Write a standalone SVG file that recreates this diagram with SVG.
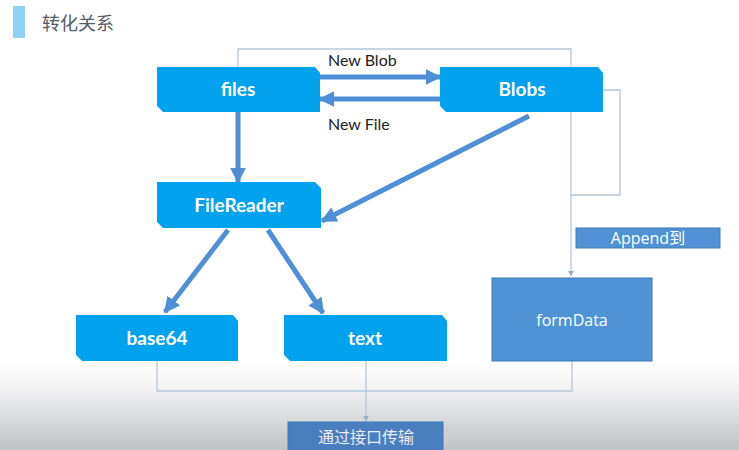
<svg xmlns="http://www.w3.org/2000/svg" width="739" height="450" viewBox="0 0 739 450">
<defs>
<linearGradient id="bg" x1="0" y1="0" x2="0" y2="1">
<stop offset="0" stop-color="#ffffff"/>
<stop offset="0.3" stop-color="#f2f2f3"/>
<stop offset="1" stop-color="#bfc1c4"/>
</linearGradient>
<marker id="ah" viewBox="0 0 10 10" refX="9" refY="5" markerWidth="3.2" markerHeight="3.2" orient="auto" markerUnits="strokeWidth">
<path d="M0,0 L10,5 L0,10 z" fill="#4f8fd6"/>
</marker>
<marker id="th" viewBox="0 0 10 10" refX="9" refY="5" markerWidth="6" markerHeight="6" orient="auto" markerUnits="userSpaceOnUse">
<path d="M0,0 L10,5 L0,10 z" fill="#8fb0cf"/>
</marker>
</defs>
<style>
.node path{fill:#03a2ee}
.node text{fill:#fff;font-family:Lato,"Open Sans",sans-serif;font-weight:bold;font-size:19px;text-anchor:middle}
.thick{stroke:#4f8fd6;stroke-width:5;fill:none;marker-end:url(#ah)}
.thin{stroke:#b4c7db;stroke-width:1.3;fill:none}
.lbl{font-family:Lato,"Open Sans",sans-serif;font-size:16px;fill:#222}
.box{fill:#4f93d6;stroke:#3f78b5;stroke-width:1}
.boxt{fill:#fff;font-family:"Open Sans","Noto Sans CJK SC",sans-serif;font-size:16px;text-anchor:middle}
</style>
<rect x="0" y="0" width="739" height="450" fill="#ffffff"/>
<rect x="0" y="362" width="739" height="88" fill="url(#bg)"/>
<rect x="13" y="6" width="12" height="32" fill="#8fd0f5"/>
<text x="42" y="30" font-family="'Noto Sans CJK SC',sans-serif" font-size="18" fill="#555b66">转化关系</text>
<g id="connectors">
<polyline class="thin" points="238,67 238,49 571,49 571,276" marker-end="url(#th)"/>
<polyline class="thin" points="603,90 620,90 620,195 571,195"/>
<polyline class="thin" points="157,361 157,391 572,391 572,361"/>
<line class="thin" x1="366" y1="361" x2="366" y2="421" marker-end="url(#th)"/>
<line class="thick" x1="320" y1="77" x2="440" y2="77"/>
<line class="thick" x1="440" y1="99" x2="320" y2="99"/>
<line class="thick" x1="238" y1="112" x2="238" y2="182"/>
<line class="thick" x1="529" y1="116" x2="322" y2="221"/>
<line class="thick" x1="228" y1="230" x2="165" y2="312"/>
<line class="thick" x1="268" y1="230" x2="323" y2="313"/>
<text class="lbl" x="328" y="66">New Blob</text>
<text class="lbl" x="328" y="130">New File</text>
</g>
<g id="files" class="node"><path d="M157,67 H315 L320,73 V112 H163 L157,106 Z"/><text x="238" y="96">files</text></g>
<g id="blobs" class="node"><path d="M440,67 H598 L603,73 V112 H446 L440,106 Z"/><text x="522" y="96">Blobs</text></g>
<g id="filereader" class="node"><path d="M157,182 H315 L321,188 V228 H163 L157,222 Z"/><text x="239" y="212">FileReader</text></g>
<g id="base64" class="node"><path d="M76,315 H233 L238,321 V361 H82 L76,355 Z"/><text x="157" y="345">base64</text></g>
<g id="text" class="node"><path d="M284,315 H442 L447,321 V361 H290 L284,355 Z"/><text x="365" y="345">text</text></g>
<g id="formdata"><rect class="box" x="492" y="278" width="160" height="83"/><text class="boxt" x="572" y="326">formData</text></g>
<g id="append"><rect class="box" x="576" y="228" width="144" height="20"/><text class="boxt" x="648" y="244">Append到</text></g>
<g id="transfer"><rect class="box" x="288" y="422" width="155" height="40" style="fill:#4a7fbf"/><text class="boxt" x="366" y="443" style="fill:#e8eef5">通过接口传输</text></g>
</svg>
